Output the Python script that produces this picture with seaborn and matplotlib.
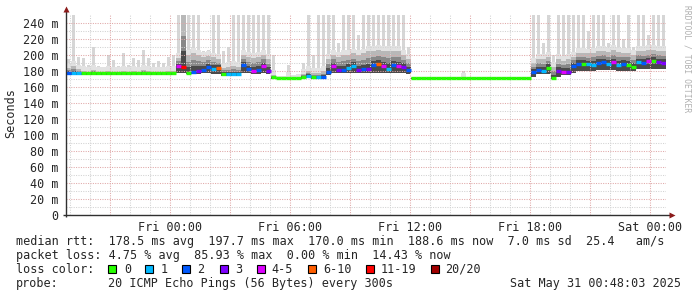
import numpy as np
import pandas as pd
import matplotlib
matplotlib.use("Agg")
import matplotlib.pyplot as plt
from matplotlib.patches import Rectangle
import seaborn as sns

# ---------------- data (15-minute bins, hours relative to Fri 00:00) ----------------
start_hour = -5.2
step_hours = 0.25

median_ms = [178, 177, 177, 177, 177, 177, 177, 177, 177, 177, 177, 177, 177, 177, 177, 177, 177, 177, 177, 177, 177, 177,
             186, 185, 178, 179, 180, 181, 185, 183, 184, 176, 176, 176, 176, 188, 182, 180, 181, 186, 180,
             172, 171, 171, 171, 171, 171, 172, 174, 172, 172, 172,
             179, 186, 181, 181, 184, 186, 181, 182, 182, 187, 189, 186, 183, 187, 186, 185, 181,
             171, 171, 171, 171, 171, 171, 171, 171, 171, 171, 171, 171, 171, 171, 171, 171, 171, 171, 171, 171, 171, 171, 171, 171,
             179, 181, 180, 184, 171, 180, 179, 179,
             186, 189, 189, 189, 188, 190, 191, 189, 191, 188, 189, 188, 185, 191, 190, 192, 193, 191, 190]

loss_idx = [2, 1, 1, 0, 0, 0, 0, 0, 0, 0, 0, 0, 0, 0, 0, 0, 0, 0, 0, 0, 0, 0,
            4, 6, 0, 2, 3, 2, 2, 1, 5, 0, 1, 1, 1, 2, 2, 4, 2, 4, 3,
            0, 0, 0, 0, 0, 0, 0, 1, 0, 1, 2,
            2, 4, 3, 2, 1, 1, 3, 2, 3, 2, 5, 4, 1, 2, 4, 3, 2,
            0, 0, 0, 0, 0, 0, 0, 0, 0, 0, 0, 0, 0, 0, 0, 0, 0, 0, 0, 0, 0, 0, 0, 0,
            2, 2, 1, 0, 0, 3, 4, 3,
            2, 2, 0, 1, 1, 2, 2, 1, 4, 1, 2, 0, 0, 1, 2, 4, 0, 3, 3]

smoke_lo = [175, 175, 175, 175, 175, 175, 175, 175, 175, 175, 175, 175, 175, 175, 175, 175, 175, 175, 175, 175, 175, 175,
            177, 177, 176, 176, 176, 177, 177, 176, 176, 174, 174, 174, 174, 177, 177, 176, 176, 177, 176,
            170, 170, 170, 170, 170, 170, 170, 171, 170, 170, 170,
            175, 177, 177, 177, 177, 177, 177, 177, 177, 178, 178, 178, 177, 178, 178, 177, 176,
            170, 170, 170, 170, 170, 170, 170, 170, 170, 170, 170, 170, 170, 170, 170, 170, 170, 170, 170, 170, 170, 170, 170, 170,
            172, 176, 176, 176, 170, 172, 175, 175,
            178, 180, 180, 180, 180, 181, 181, 181, 181, 180, 180, 180, 180, 182, 182, 182, 183, 182, 182]

smoke_mid = [184, 186, 182, 180, 179, 181, 179, 179, 180, 179, 179, 180, 179, 180, 179, 181, 180, 179, 179, 179, 180, 180,
             196, 250, 200, 203, 200, 198, 199, 197, 195, 184, 185, 186, 185, 200, 198, 196, 198, 200, 195,
             175, 172, 172, 173, 172, 172, 176, 180, 178, 178, 180,
             195, 200, 198, 200, 200, 202, 200, 202, 205, 205, 206, 205, 205, 205, 205, 200, 195,
             172, 172, 172, 172, 172, 172, 172, 172, 172, 172, 172, 172, 172, 172, 172, 172, 172, 172, 172, 172, 172, 172, 172, 172,
             190, 195, 195, 198, 185, 195, 193, 195,
             198, 203, 203, 202, 203, 205, 205, 204, 206, 204, 203, 203, 200, 205, 205, 206, 206, 205, 205]

smoke_hi = [195, 250, 197, 196, 188, 210, 186, 185, 200, 194, 186, 202, 188, 196, 194, 206, 196, 190, 193, 190, 198, 200,
            250, 250, 250, 250, 250, 205, 206, 250, 250, 205, 210, 250, 250, 250, 250, 250, 250, 250, 250,
            200, 174, 174, 188, 175, 176, 190, 250, 200, 250, 250,
            250, 250, 215, 250, 250, 250, 225, 250, 250, 250, 250, 250, 250, 250, 250, 250, 210,
            173, 173, 173, 173, 173, 173, 173, 173, 173, 173, 180, 173, 173, 173, 173, 173, 173, 173, 173, 173, 173, 173, 173, 173,
            250, 250, 215, 250, 200, 250, 250, 250,
            250, 250, 250, 230, 250, 250, 250, 215, 250, 250, 220, 250, 210, 250, 250, 225, 250, 250, 250]

loss_labels = ["0", "1", "2", "3", "4-5", "6-10", "11-19", "20/20"]
loss_colors = ["#26ff00", "#00b8ff", "#0059ff", "#7e00ff", "#dd00ff", "#ff5e00", "#ff0000", "#a10000"]

x_tick_hours = [0, 6, 12, 18, 24]
x_tick_labels = ["Fri 00:00", "Fri 06:00", "Fri 12:00", "Fri 18:00", "Sat 00:00"]
y_ticks = [0, 20, 40, 60, 80, 100, 120, 140, 160, 180, 200, 220, 240]
y_tick_labels = ["0", "20 m", "40 m", "60 m", "80 m", "100 m", "120 m", "140 m",
                 "160 m", "180 m", "200 m", "220 m", "240 m"]

stats_line = "median rtt:  178.5 ms avg  197.7 ms max  170.0 ms min  188.6 ms now  7.0 ms sd  25.4   am/s"
loss_line = "packet loss: 4.75 % avg  85.93 % max  0.00 % min  14.43 % now"
probe_text = "20 ICMP Echo Pings (56 Bytes) every 300s"
stamp_text = "Sat May 31 00:48:03 2025"

# ---------------- figure ----------------
sns.set_style("white")
plt.rcParams["font.family"] = ["DejaVu Sans Mono"]
FS = 8.5
W, H = 697, 297
fig = plt.figure(figsize=(W / 100, H / 100), dpi=100)
fig.patch.set_facecolor("white")

def fx(x):
    return x / W

def fy(y):
    return 1 - y / H

ax = fig.add_axes([fx(66), fy(215), 600 / W, 200 / H])
ax.set_facecolor("white")

n = len(median_ms)
t_start = start_hour + step_hours * np.arange(n)
med = np.array(median_ms, float)
lo = np.array(smoke_lo, float)
mid = np.array(smoke_mid, float)
hi = np.array(smoke_hi, float)

# smoke: thin light outer columns, then progressively darker inner bands
ax.bar(t_start + step_hours * 0.5, hi - lo, bottom=lo, width=step_hours * 0.6, align="center",
       color="#d6d6d6", linewidth=0, zorder=1)
ax.bar(t_start, np.minimum(hi, mid + 6) - lo, bottom=lo, width=step_hours, align="edge",
       color="#e2e2e2", linewidth=0, zorder=1.2)
for frac, col in [(1.0, "#b8b8b8"), (0.6, "#888888"), (0.3, "#4a4a4a")]:
    top = med + frac * (mid - med)
    ax.bar(t_start, top - lo, bottom=lo, width=step_hours, align="edge",
           color=col, linewidth=0, zorder=1.5)

# grid (drawn over the smoke like rrdtool)
xmin, xmax = start_hour, start_hour + step_hours * n
for h in range(-5, 25):
    major = (h % 3 == 0)
    ax.axvline(h, color="#e0a8a8" if major else "#d2d2d2", lw=0.75,
               ls=(0, (1, 1.3)), zorder=2.5)
for v in range(10, 250, 10):
    major = (v % 20 == 0)
    ax.axhline(v, color="#e0a8a8" if major else "#d2d2d2", lw=0.75,
               ls=(0, (1, 1.3)), zorder=2.5)

# median line coloured by loss
rows = []
for k in range(n):
    lab = loss_labels[loss_idx[k]]
    rows.append({"t": t_start[k], "ms": median_ms[k], "unit": k, "loss": lab})
    rows.append({"t": t_start[k] + step_hours, "ms": median_ms[k], "unit": k, "loss": lab})
df = pd.DataFrame(rows)
sns.lineplot(data=df, x="t", y="ms", hue="loss", units="unit", estimator=None,
             palette=dict(zip(loss_labels, loss_colors)), hue_order=loss_labels,
             linewidth=2.4, legend=False, ax=ax, zorder=4, solid_capstyle="butt")

ax.set_xlim(xmin, xmax)
ax.set_ylim(0, 250)
ax.set_xlabel("")
ax.set_ylabel("")
for s in ax.spines.values():
    s.set_visible(False)

ax.set_xticks(x_tick_hours)
ax.set_xticklabels(x_tick_labels, fontsize=FS)
ax.set_xticks(range(-5, 25), minor=True)
ax.set_yticks(y_ticks)
ax.set_yticklabels(y_tick_labels, fontsize=FS)
ax.set_yticks(range(10, 250, 20), minor=True)
ax.tick_params(axis="x", which="major", length=2.5, width=0.7, color="#404040", pad=1.5)
ax.tick_params(axis="x", which="minor", length=1.5, width=0.7, color="#404040")
ax.tick_params(axis="y", which="major", length=2.5, width=0.7, color="#404040", pad=3)
ax.tick_params(axis="y", which="minor", length=1.5, width=0.7, color="#404040")

# axis lines with arrows
ax.plot([xmin - 0.15, xmin + (672 - 66) / 20], [0, 0], color="#303030", lw=1.0,
        clip_on=False, zorder=5, solid_capstyle="butt")
ax.plot([xmin, xmin], [-2, 256], color="#303030", lw=1.0, clip_on=False, zorder=5,
        solid_capstyle="butt")
ax.plot([xmin + (672 - 66) / 20], [0], marker=">", ms=4.5, color="#8b1a1a",
        clip_on=False, zorder=6, mec="none")
ax.plot([xmin], [257], marker="^", ms=4.5, color="#8b1a1a", clip_on=False,
        zorder=6, mec="none")

# labels
fig.text(fx(11), fy(113.5), "Seconds", rotation=90, ha="center", va="center", fontsize=FS)
fig.text(fx(686.5), fy(5), "RRDTOOL / TOBI OETIKER", rotation=270, ha="center",
         va="top", fontsize=5.8, color="#b0b0b0")

# legend / statistics block
fig.text(fx(16), fy(241), stats_line, ha="left", va="center", fontsize=FS)
fig.text(fx(16), fy(255.7), loss_line, ha="left", va="center", fontsize=FS)
fig.text(fx(16), fy(269.3), "loss color:", ha="left", va="center", fontsize=FS)
fig.text(fx(16), fy(283.7), "probe:", ha="left", va="center", fontsize=FS)
fig.text(fx(108), fy(283.7), probe_text, ha="left", va="center", fontsize=FS)
fig.text(fx(681), fy(283.7), stamp_text, ha="right", va="center", fontsize=FS)

box_x = [108, 145, 182, 219.5, 257, 308, 365.5, 430.5]
text_x = [124, 160.8, 197.3, 234.7, 271.2, 322.9, 380.4, 445]
for bx, tx, lab, col in zip(box_x, text_x, loss_labels, loss_colors):
    fig.patches.append(Rectangle((fx(bx), fy(273)), 8 / W, 8 / H, transform=fig.transFigure,
                                 facecolor=col, edgecolor="black", linewidth=0.8))
    fig.text(fx(tx), fy(269.3), lab, ha="left", va="center", fontsize=FS)

fig.savefig("out.png", dpi=100, facecolor="white")
